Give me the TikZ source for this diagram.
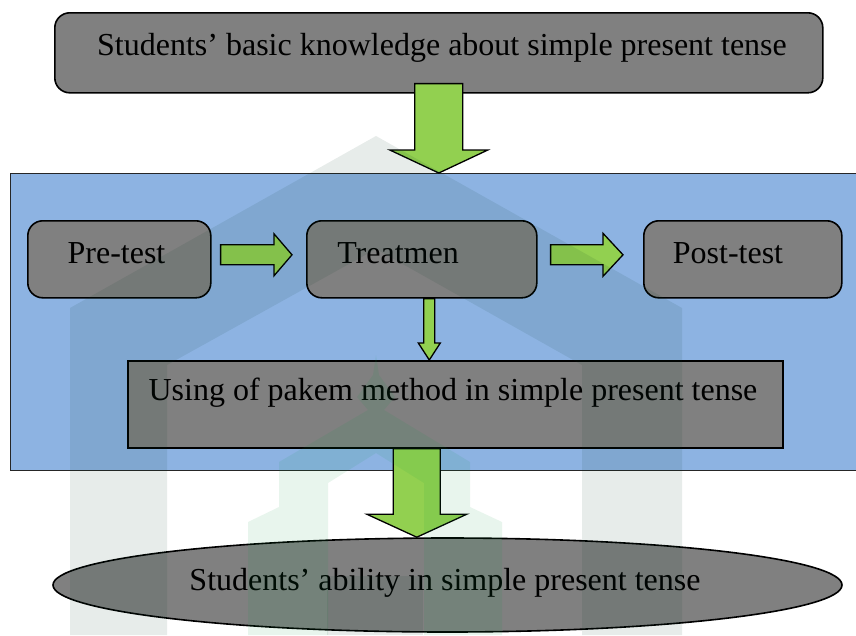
\documentclass[tikz,border=0pt]{standalone}
\usepackage{fontspec}
\setmainfont{Liberation Serif}
\usetikzlibrary{shapes.geometric,calc}

\definecolor{boxgray}{RGB}{128,128,128}
\definecolor{panelblue}{RGB}{141,179,226}
\definecolor{arrowgreen}{RGB}{146,208,80}
\definecolor{wmdark}{RGB}{4,55,35}
\definecolor{wmlight}{RGB}{5,155,63}

\tikzset{
  box/.style={draw=black, line width=1.6pt, fill=boxgray, rounded corners=15pt, inner sep=0pt},
  sqbox/.style={draw=black, line width=1.6pt, fill=boxgray, inner sep=0pt},
  panel/.style={draw=black!85, line width=1.4pt, fill=panelblue, inner sep=0pt},
  goalshape/.style={draw=black, line width=1.6pt, fill=boxgray, ellipse, inner sep=0pt},
  lbl/.style={font=\fontsize{32}{38}\selectfont, inner sep=0pt, anchor=base},
  blockarrow/.style={draw=black, line width=1.3pt, fill=arrowgreen, line join=miter},
  wmgray/.style={fill=wmdark, fill opacity=0.095},
  wmgreen/.style={fill=wmlight, fill opacity=0.09, even odd rule},
}

% block arrow pointing down: tail, tip, shaft half width, head half width, head length
\newcommand\vblock[5]{\filldraw[blockarrow] let \p1=#1, \p2=#2 in
  (\x1-#3pt,\y1) -- (\x1-#3pt,\y2+#5pt) -- (\x1-#4pt,\y2+#5pt) -- (\x1,\y2)
  -- (\x1+#4pt,\y2+#5pt) -- (\x1+#3pt,\y2+#5pt) -- (\x1+#3pt,\y1) -- cycle;}
% block arrow pointing right: tail, tip, shaft half width, head half width, head length
\newcommand\hblock[5]{\filldraw[blockarrow] let \p1=#1, \p2=#2 in
  (\x1,\y1+#3pt) -- (\x2-#5pt,\y1+#3pt) -- (\x2-#5pt,\y1+#4pt) -- (\x2,\y1)
  -- (\x2-#5pt,\y1-#4pt) -- (\x2-#5pt,\y1-#3pt) -- (\x1,\y1-#3pt) -- cycle;}

\begin{document}
\begin{tikzpicture}[x=1pt, y=-1pt]
  \fill[white] (0,0) rectangle (856,635);
  \useasboundingbox (0,0) rectangle (856,635);

  % frame of the treatment stage
  \node[panel, minimum width=848pt, minimum height=297pt, anchor=north west] (panel) at (10,173) {};

  % boxes
  \node[box, minimum width=768pt, minimum height=80pt, anchor=north west] (top) at (54,12) {};
  \node[box, minimum width=183pt, minimum height=77pt, anchor=north west] (pre) at (27,220) {};
  \node[box, minimum width=230pt, minimum height=77pt, anchor=north west] (treat) at (306,220) {};
  \node[box, minimum width=198pt, minimum height=77pt, anchor=north west] (post) at (643,220) {};
  \node[sqbox, minimum width=655pt, minimum height=87pt, anchor=north west] (use) at (127,360) {};
  \node[goalshape, minimum width=789pt, minimum height=94pt] (goal) at (447.5,585) {};

  % texts
  \node[lbl] (topText) at (442,55) {Students’ basic knowledge about simple present tense};
  \node[lbl] (preText) at (116.5,263) {Pre-test};
  \node[lbl] (treatText) at (398,263) {Treatmen};
  \node[lbl] (postText) at (728,263) {Post-test};
  \node[lbl] (useText) at (453,400) {Using of pakem method in simple present tense};
  \node[lbl] (goalText) at (445,590) {Students’ ability in simple present tense};

  % connectors
  \vblock{($(top.south)+(0,-10)$)}{(top.south |- panel.north)}{24}{49}{23}
  \hblock{($(pre.east)+(9,-4.5)$)}{($(treat.west)+(-14,-4.5)$)}{10}{21}{18}
  \hblock{($(treat.east)+(13,-4.5)$)}{($(post.west)+(-20,-4.5)$)}{10}{21.5}{20}
  \coordinate (smallTail) at ($(treat.south)+(7.5,0)$);
  \vblock{(smallTail)}{(smallTail |- use.north)}{5.5}{11}{17}
  \coordinate (bigTail) at ($(use.south)+(-38.5,0)$);
  \vblock{(bigTail)}{(bigTail |- goal.north)}{23.5}{50}{23}

  % faint emblem in the background
  \fill[wmgray] (70,635) -- (70,308) -- (376,136) -- (682,308) -- (682,635)
    -- (582,635) -- (582,365) -- (376,249) -- (167,365) -- (167,635) -- cycle;
  \fill[wmgray] (327,635) -- (327,576) -- (423,576) -- (423,635) -- cycle;
  \fill[wmgreen] (248,635) -- (248,522) -- (279,507) -- (279,462) -- (368,410)
    -- (357,397) -- (373,375) -- (376,355) -- (379,375) -- (395,397) -- (384,410)
    -- (470,462) -- (470,507) -- (502,522) -- (502,635) -- cycle
    (328,635) -- (328,483) -- (376,453) -- (424,483) -- (424,635) -- cycle;
\end{tikzpicture}
\end{document}
